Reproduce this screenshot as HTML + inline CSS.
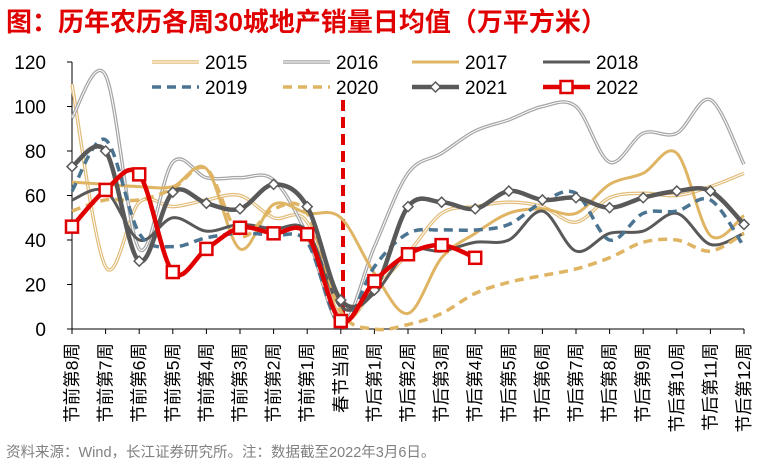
<!DOCTYPE html>
<html><head><meta charset="utf-8"><style>
body{margin:0;background:#fff;}
svg text{font-family:"Liberation Sans","Noto Sans CJK SC",sans-serif;}
</style></head><body>
<svg width="759" height="464" xmlns="http://www.w3.org/2000/svg">
<text x="6" y="31" font-size="26" font-weight="bold" fill="#e00000">图：历年农历各周30城地产销量日均值（万平方米）</text>
<g id="yaxis"></g>
<g id="xaxis"></g>
<line x1="343" y1="100" x2="343" y2="329" stroke="#e00000" stroke-width="4" stroke-dasharray="11,6"/>
<g id="series"></g>
<g id="legend"></g>
<text x="6" y="457" font-size="14.5" fill="#808080">资料来源：Wind，长江证券研究所。注：数据截至2022年3月6日。</text>
</svg>
<script>
const categories=["节前第8周","节前第7周","节前第6周","节前第5周","节前第4周","节前第3周","节前第2周","节前第1周","春节当周","节后第1周","节后第2周","节后第3周","节后第4周","节后第5周","节后第6周","节后第7周","节后第8周","节后第9周","节后第10周","节后第11周","节后第12周"];
const yTicks=[0,20,40,60,80,100,120];
const s2015=[110,28,57,55,58,60,50,48,5,18,34,52,55,57,55,48,59,61,60,64,70];
const s2016=[95,114,36,75,68,68,67,42,2,37,70,79,89,94,100,100,75,88,88,103,74];
const s2017=[66,65,64,64,72,36,56,52,50,25,7,32,43,52,54,52,65,70,79,42,51];
const s2018=[58,62,40,50,44,47,45,44,10,16,35,35,39,40,53,35,43,44,52,38,43];
const s2019=[62,85,43,37,41,43,42,39,2,28,43,44.5,44.5,47,57,61,40,52,53,58,37];
const s2020=[53,58,58,63,72,42,54,52,8,0,2,7,16,21,24,27,32,39,40,35,43];
const s2021=[73,80,30.5,61.5,56.5,54,65,55,13,17.5,55,57,54,62,58,59,54.5,59,62,62,47];
const s2022=[46,62.5,69.5,25.6,36,45.5,43,42.6,3.6,21.5,33.6,37.7,32];
const NS="http://www.w3.org/2000/svg";
const X0=72,X1=744,Y0=329,Y1=62;
function xs(i){return X0+i*(X1-X0)/(categories.length-1);}
function ys(v){return Y0-(v/120)*(Y0-Y1);}
function mk(tag,attrs,parent){const e=document.createElementNS(NS,tag);for(const k in attrs)e.setAttribute(k,attrs[k]);parent.appendChild(e);return e;}
const yg=document.getElementById('yaxis'),xg=document.getElementById('xaxis'),sg=document.getElementById('series'),lg=document.getElementById('legend');
let ax=mk('line',{x1:X0,y1:Y1,x2:X0,y2:Y0,stroke:'#000','stroke-width':1},yg);

yTicks.forEach(t=>{
 const l=mk('line',{x1:X0-5,x2:X0,y1:ys(t),y2:ys(t),stroke:'#000'},yg);
 
 const tx=mk('text',{x:X0-26,y:ys(t)+7,'font-size':19,'text-anchor':'end',fill:'#000'},yg);
 tx.textContent=t;
 
});
let bx=mk('line',{x1:X0,y1:Y0,x2:X1,y2:Y0,stroke:'#000','stroke-width':1},xg);

categories.forEach((c,i)=>{
 const x=xs(i);
 const l=mk('line',{x1:x,x2:x,y1:Y0,y2:Y0+5,stroke:'#000'},xg);
 
 const t=mk('text',{x:0,y:0,'font-size':17.5,'text-anchor':'end',transform:`translate(${x+6},343) rotate(-90)`},xg);
 t.textContent=c;
 
});
function path(vals){
 const p=vals.map((v,i)=>[xs(i),ys(v)]);
 let d=`M${p[0][0]},${p[0][1]}`;
 const t=1/6;
 for(let i=0;i<p.length-1;i++){
  const a=p[Math.max(i-1,0)],b=p[i],c=p[i+1],e=p[Math.min(i+2,p.length-1)];
  d+=` C${b[0]+(c[0]-a[0])*t},${b[1]+(c[1]-a[1])*t} ${c[0]-(e[0]-b[0])*t},${c[1]-(e[1]-b[1])*t} ${c[0]},${c[1]}`;
 }
 return d;
}
const defs=[
 {n:'2015',v:s2015,c:'#e2bd7b',w:3.5,dbl:true},
 {n:'2016',v:s2016,c:'#a6a6a6',w:3.5,dbl:true},
 {n:'2017',v:s2017,c:'#dfb463',w:3},
 {n:'2018',v:s2018,c:'#595959',w:3},
 {n:'2019',v:s2019,c:'#4a7491',w:3.5,dash:'9,6'},
 {n:'2020',v:s2020,c:'#dfb463',w:3.5,dash:'9,6'},
 {n:'2021',v:s2021,c:'#595959',w:4.5,m:'diamond'},
 {n:'2022',v:s2022,c:'#e00000',w:4.5,m:'square'}
];
function marker(type,x,y,c,g){
 let e;
 if(type==='diamond') e=mk('path',{d:`M${x},${y-5}L${x+5},${y}L${x},${y+5}L${x-5},${y}Z`,fill:'#fff',stroke:c,'stroke-width':1.5},g);
 else e=mk('rect',{x:x-6,y:y-6,width:12,height:12,fill:'#fff',stroke:c,'stroke-width':2.5},g);
 return e;
}
defs.forEach(s=>{
 const g=mk('g',{},sg);
 
 const a={d:path(s.v),fill:'none',stroke:s.c,'stroke-width':s.w,'stroke-linejoin':'round'};
 if(s.dash)a['stroke-dasharray']=s.dash;
 const l=mk('path',a,g);
 
 if(s.dbl){const w=mk('path',{d:path(s.v),fill:'none',stroke:'#fff','stroke-width':1},g);
  }
 if(s.m) s.v.forEach((v,i)=>{const m=marker(s.m,xs(i),ys(v),s.c,g);
  });
});
const lx=[152,283,412,543];
defs.forEach((s,i)=>{
 const x=lx[i%4],y=i<4?62:87;
 const g=mk('g',{},lg);
 
 const a={x1:x,x2:x+47,y1:y,y2:y,stroke:s.c,'stroke-width':s.w};
 if(s.dash)a['stroke-dasharray']=s.dash;
 mk('line',a,g);
 if(s.dbl)mk('line',{x1:x,x2:x+47,y1:y,y2:y,stroke:'#fff','stroke-width':1},g);
 if(s.m)marker(s.m,x+23.5,y,s.c,g);
 const t=mk('text',{x:x+53,y:y+7,'font-size':19,fill:'#000'},g);
 t.textContent=s.n;
});
</script>
</body></html>
